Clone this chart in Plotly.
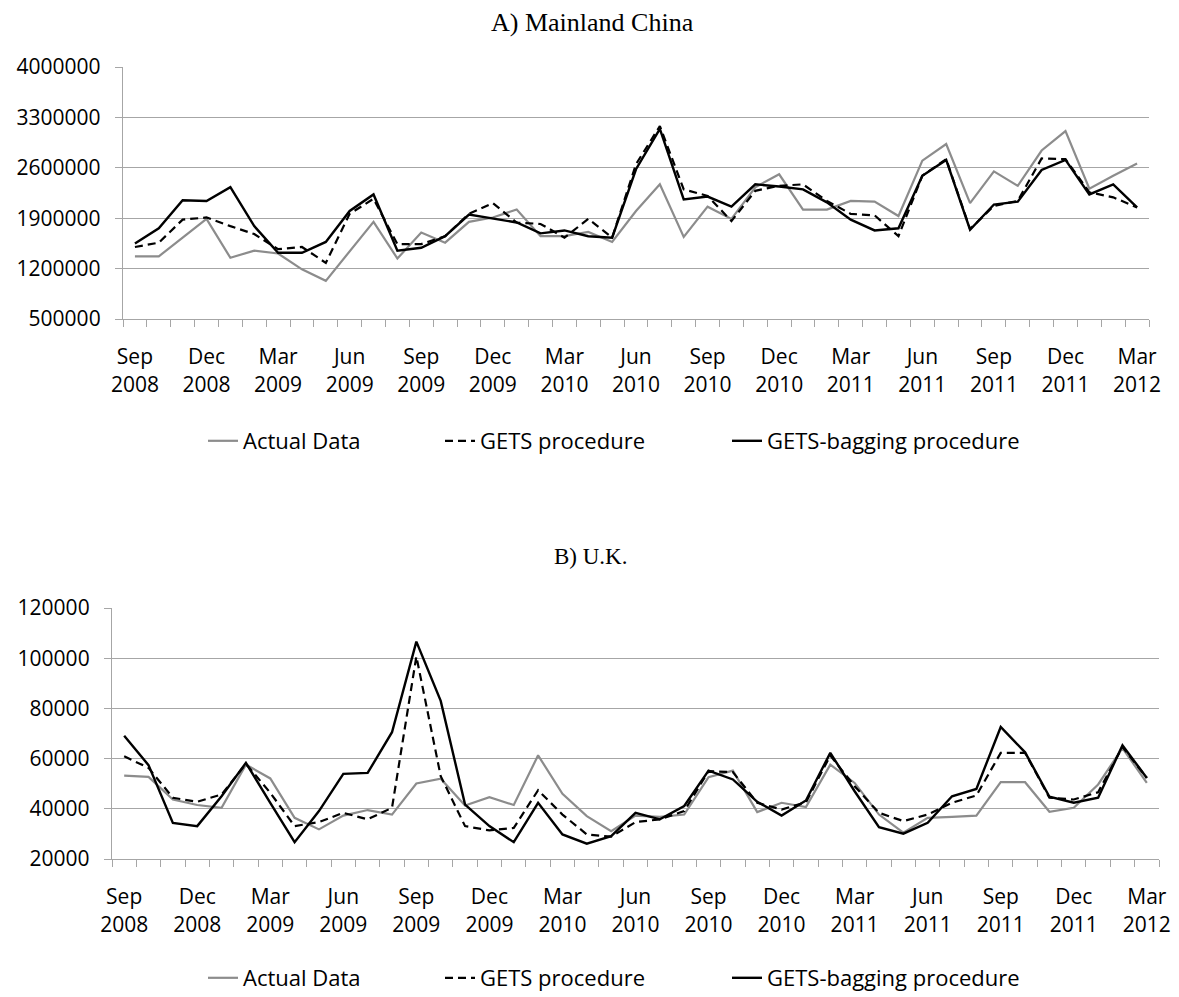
import plotly.graph_objects as go

months = []
_names = ["Jan", "Feb", "Mar", "Apr", "May", "Jun", "Jul", "Aug", "Sep", "Oct", "Nov", "Dec"]
for y in range(2008, 2013):
    for m in range(12):
        if (y == 2008 and m < 8) or (y == 2012 and m > 2):
            continue
        months.append(f"{_names[m]} {y}")

# A) Mainland China
china_actual = [1370000, 1370000, 1630000, 1890000, 1350000, 1450000, 1410000, 1190000, 1030000, 1440000,
                1850000, 1340000, 1700000, 1560000, 1850000, 1910000, 2020000, 1650000, 1650000, 1710000,
                1570000, 2000000, 2370000, 1640000, 2060000, 1890000, 2330000, 2510000, 2020000, 2020000,
                2140000, 2130000, 1930000, 2700000, 2930000, 2110000, 2550000, 2350000, 2840000, 3110000,
                2310000, 2490000, 2660000]
china_gets = [1500000, 1560000, 1880000, 1910000, 1790000, 1680000, 1470000, 1500000, 1280000, 1960000,
              2170000, 1540000, 1540000, 1650000, 1960000, 2110000, 1840000, 1820000, 1630000, 1890000,
              1630000, 2650000, 3180000, 2300000, 2210000, 1860000, 2280000, 2350000, 2370000, 2140000,
              1960000, 1940000, 1650000, 2490000, 2720000, 1750000, 2070000, 2140000, 2730000, 2720000,
              2260000, 2190000, 2050000]
china_bagging = [1550000, 1760000, 2150000, 2140000, 2330000, 1790000, 1420000, 1420000, 1570000, 2000000,
                 2230000, 1450000, 1490000, 1650000, 1950000, 1900000, 1840000, 1690000, 1730000, 1650000,
                 1630000, 2580000, 3140000, 2160000, 2200000, 2060000, 2370000, 2340000, 2300000, 2120000,
                 1880000, 1730000, 1760000, 2490000, 2710000, 1740000, 2090000, 2130000, 2570000, 2710000,
                 2230000, 2370000, 2050000]

# B) U.K.
uk_actual = [53200, 52700, 43700, 41500, 40400, 57600, 52100, 36400, 31800, 37300,
             39500, 37700, 50100, 52000, 41300, 44600, 41500, 61300, 46000, 37100,
             31100, 37300, 36800, 37700, 52600, 55200, 38700, 42400, 40700, 57600,
             50300, 37700, 30500, 36400, 36800, 37300, 50600, 50600, 38800, 40400,
             49700, 64200, 50300]
uk_gets = [60900, 56300, 44400, 42800, 45700, 57900, 46400, 33100, 34700, 38400,
           35800, 40400, 100700, 53000, 33100, 31400, 32400, 47400, 37700, 29800,
           28900, 34700, 35800, 39100, 55000, 54600, 42400, 39700, 42600, 61200,
           49000, 38400, 35100, 37700, 42400, 45300, 62300, 62300, 44400, 43700,
           46600, 64600, 52300]
uk_bagging = [69100, 57400, 34400, 33100, 45000, 58300, 42400, 26700, 39100, 53900,
              54300, 70500, 106600, 83000, 41700, 33100, 26700, 42400, 29800, 26100,
              29100, 38400, 35800, 41100, 55200, 51700, 42800, 37300, 43300, 62300,
              47000, 32700, 30100, 34400, 45000, 47900, 72600, 62500, 44800, 42400,
              44400, 65300, 52300]

series_names = ["Actual Data", "GETS procedure", "GETS-bagging procedure"]
panel_titles = ["A) Mainland China", "B) U.K."]

x_idx = list(range(len(months)))
tick_pos = x_idx[::3]
tick_text = [months[i].replace(" ", "<br>") for i in tick_pos]

GRID = "#a6a6a6"
LABEL_FONT = dict(family="Open Sans, sans-serif", size=21, color="#000000")
LEGEND_FONT = dict(family="Open Sans, sans-serif", size=22, color="#000000")
styles = [dict(color="#8c8c8c", width=2.2),
          dict(color="#000000", width=2.2, dash="8px,5px"),
          dict(color="#000000", width=2.4)]

# page body has an 8px margin: the figure is drawn 8px in from the top-left corner
OFF = 8
W, H = 1179 - OFF, 997 - OFF
def px_x(a, b):
    return [(a - OFF) / W, (b - OFF) / W]
def px_y(top, bottom):
    return [1 - (bottom - OFF) / H, 1 - (top - OFF) / H]
def fx(p):
    return (p - OFF) / W
def fy(p):
    return 1 - (p - OFF) / H

fig = go.Figure()
panels = [((china_actual, china_gets, china_bagging), "x", "y", 441),
          ((uk_actual, uk_gets, uk_bagging), "x2", "y2", 978)]
legend_text_x = [243, 480, 767]
legends = {}
k = 0
for data3, xa, ya, ly in panels:
    for vals, name, st, tx in zip(data3, series_names, styles, legend_text_x):
        k += 1
        lname = "legend" if k == 1 else f"legend{k}"
        fig.add_trace(go.Scatter(x=x_idx, y=vals, mode="lines", name=name, line=st, showlegend=True,
                                 xaxis=xa, yaxis=ya, legend=lname))
        legends[lname] = dict(orientation="h", x=fx(tx - 40), xanchor="left", y=fy(ly), yanchor="middle",
                              font=LEGEND_FONT, bgcolor="rgba(0,0,0,0)", borderwidth=0, visible=True)

xcommon = dict(range=[-0.5, len(months) - 0.5], tickmode="array", tickvals=tick_pos, ticktext=tick_text,
               ticks="", showgrid=False, zeroline=False, showline=True, linecolor=GRID, linewidth=1.3,
               tickfont=LABEL_FONT, fixedrange=True, automargin=False, ticklabelstandoff=19,
               minor=dict(ticks="outside", tick0=-0.5, dtick=1, ticklen=7, tickcolor=GRID, tickwidth=1.3,
                          showgrid=False))
ycommon = dict(showgrid=True, gridcolor=GRID, gridwidth=1.3, zeroline=False, showline=True, linecolor=GRID,
               linewidth=1.3, ticks="outside", ticklen=7, tickcolor=GRID, tickwidth=1.3,
               tickfont=LABEL_FONT, fixedrange=True, automargin=False, ticklabelstandoff=10)

fig.update_layout(
    width=W, height=H,
    showlegend=True,
    margin=dict(l=0, r=0, t=0, b=0, autoexpand=False),
    template="none",
    paper_bgcolor="white", plot_bgcolor="white",
    xaxis=dict(domain=px_x(123, 1149), anchor="y", **xcommon),
    yaxis=dict(domain=px_y(67, 319), anchor="x", range=[500000, 4000000], dtick=700000, tick0=500000,
               tickformat="d", **ycommon),
    xaxis2=dict(domain=px_x(112, 1159), anchor="y2", **xcommon),
    yaxis2=dict(domain=px_y(608, 859), anchor="x2", range=[20000, 120000], dtick=20000, tick0=20000,
                tickformat="d", **ycommon),
    annotations=[
        dict(text=panel_titles[0], x=fx(592), y=fy(22), xref="paper", yref="paper", showarrow=False,
             xanchor="center", yanchor="middle",
             font=dict(family="Liberation Serif, Times New Roman, serif", size=26, color="#000000")),
        dict(text=panel_titles[1], x=fx(590), y=fy(556), xref="paper", yref="paper", showarrow=False,
             xanchor="center", yanchor="middle",
             font=dict(family="Liberation Serif, Times New Roman, serif", size=23, color="#000000")),
    ],
)
fig.update_layout(**legends)

fig.write_html("out.html")
